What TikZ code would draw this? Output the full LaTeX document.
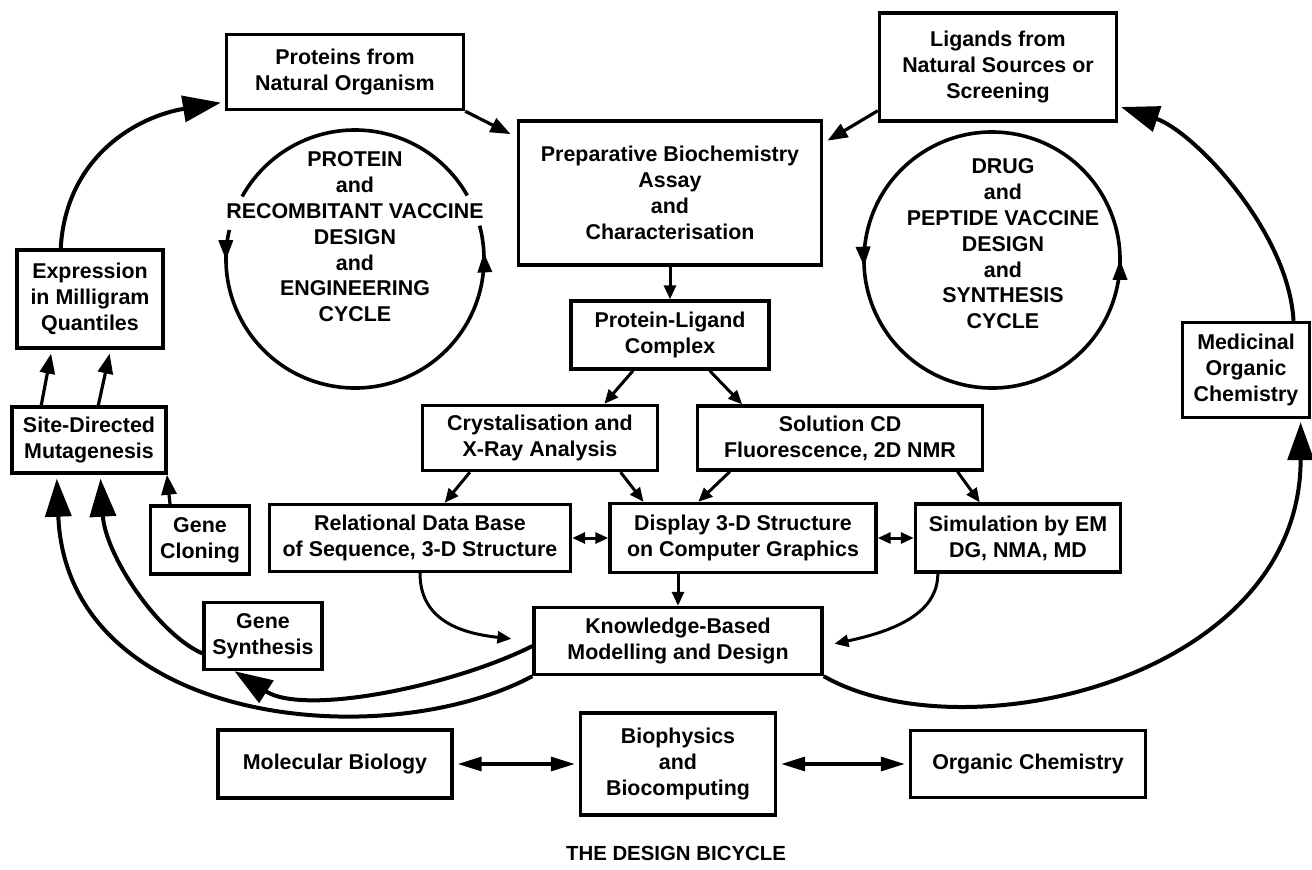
\documentclass[tikz,border=0pt]{standalone}
\usepackage{fontspec}
\setmainfont{Liberation Sans}
\usepackage{tikz}
\usetikzlibrary{arrows.meta,positioning,decorations.markings}
\tikzstyle{stage} = [rectangle, draw, line width=1.7pt, text centered, align=center, inner sep=0pt, font=\bfseries\fontsize{10.7}{12.9}\selectfont]
\tikzstyle{cyclelabel} = [align=center, font=\bfseries\fontsize{10.7}{12.9}\selectfont]
\tikzstyle{bigarrow} = [line width=2pt, -{Triangle[length=19pt,width=13pt]}]
\tikzstyle{midarrow} = [line width=1.6pt, -{Triangle[length=10pt,width=7.5pt]}]
\tikzstyle{smallarrow} = [line width=1.5pt, -{Triangle[length=7pt,width=6pt]}]
\tikzstyle{duplex} = [line width=1.5pt, {Triangle[length=6.5pt,width=5.5pt]}-{Triangle[length=6.5pt,width=5.5pt]}]
\tikzstyle{longduplex} = [line width=1.6pt, {Triangle[length=12pt,width=7pt]}-{Triangle[length=12pt,width=7pt]}]
\tikzstyle{cyclearc} = [line width=1.8pt]
\tikzstyle{leftmarks} = [postaction={decorate}, decoration={markings, mark=at position 0.065 with {\arrow{Triangle[length=10pt,width=7pt]}}, mark=at position 0.942 with {\arrow{Triangle[length=10pt,width=7pt]}}}]
\tikzstyle{rightmarks} = [postaction={decorate}, decoration={markings, mark=at position 0.028 with {\arrow{Triangle[length=10pt,width=7pt]}}, mark=at position 0.536 with {\arrow{Triangle[length=10pt,width=7pt]}}}]

\begin{document}
\begin{tikzpicture}[x=0.5pt, y=-0.5pt]
\useasboundingbox (0,0) rectangle (1312,869);
% Sources and central assay
\node (proteins) [stage, minimum width=118.5pt, minimum height=37.5pt] at (345,72) {Proteins from\\Natural Organism};
\node (prep) [stage, minimum width=151.5pt, minimum height=72pt] at (670,193) {Preparative Biochemistry\\Assay\\and\\Characterisation};
\node (ligands) [stage, minimum width=118.5pt, minimum height=54pt] at (998,67) {Ligands from\\Natural Sources or\\Screening};
\node (plc) [stage, below of=prep, node distance=71pt, minimum width=99pt, minimum height=34pt] {Protein-Ligand\\Complex};

% Structure analysis
\node (crys) [stage, minimum width=117.5pt, minimum height=32.5pt] at (540,438) {Crystalisation and\\X-Ray Analysis};
\node (sol) [stage, right of=crys, node distance=150pt, minimum width=142.5pt, minimum height=32pt] {Solution CD\\Fluorescence, 2D NMR};
\node (disp) [stage, minimum width=133pt, minimum height=34.5pt] at (743,538) {Display 3-D Structure\\on Computer Graphics};
\node (reldb) [stage, left of=disp, node distance=161.5pt, minimum width=150.5pt, minimum height=33.5pt] {Relational Data Base\\of Sequence, 3-D Structure};
\node (sim) [stage, right of=disp, node distance=137.5pt, minimum width=102.5pt, minimum height=34pt] {Simulation by EM\\DG, NMA, MD};
\node (know) [stage, minimum width=144pt, minimum height=33.5pt] at (678,641) {Knowledge-Based\\Modelling and Design};

% Left and right sides
\node (expr) [stage, minimum width=73pt, minimum height=49pt] at (90,299) {Expression\\in Milligram\\Quantiles};
\node (sdm) [stage, minimum width=77pt, minimum height=33pt] at (89,440) {Site-Directed\\Mutagenesis};
\node (gc) [stage, minimum width=49.5pt, minimum height=34pt] at (200,540) {Gene\\Cloning};
\node (gs) [stage, minimum width=59pt, minimum height=33.5pt] at (263,636) {Gene\\Synthesis};
\node (med) [stage, minimum width=63.5pt, minimum height=47.5pt] at (1246,370) {Medicinal\\Organic\\Chemistry};

% Disciplines
\node (bio) [stage, below of=know, node distance=61.5pt, minimum width=97.5pt, minimum height=51pt] {Biophysics\\and\\Biocomputing};
\node (molbio) [stage, left of=bio, node distance=171.5pt, minimum width=117pt, minimum height=34pt] {Molecular Biology};
\node (orgchem) [stage, right of=bio, node distance=175pt, minimum width=117.5pt, minimum height=33.5pt] {Organic Chemistry};
\node (title) [font=\bfseries\fontsize{10.2}{12}\selectfont] at (676,853) {THE DESIGN BICYCLE};

% Cycles
\coordinate (lhub) at (355,259);
\coordinate (rhub) at (992,260);
\node (lcycle) [cyclelabel] at (355,237) {PROTEIN\\and\\RECOMBITANT VACCINE\\DESIGN\\and\\ENGINEERING\\CYCLE};
\node (rcycle) [cyclelabel] at (1003,244) {DRUG\\and\\PEPTIDE VACCINE\\DESIGN\\and\\SYNTHESIS\\CYCLE};
\draw[cyclearc] ([shift={(29.5:64.5pt)}]lhub) arc[start angle=29.5, end angle=151, radius=64.5pt];
\draw[cyclearc, leftmarks] ([shift={(167:64.5pt)}]lhub) arc[start angle=167, end angle=375, radius=64.5pt];
\draw[cyclearc, rightmarks] ([shift={(-10:64pt)}]rhub) arc[start angle=-10, end angle=350, radius=64pt];

% Central flow
\draw[midarrow, shorten >=3.5pt] (proteins.south east) -- (prep.160);
\draw[midarrow, shorten >=2.5pt] (ligands.200) -- (prep.18);
\draw[smallarrow] (prep) -- (plc);
\draw[smallarrow] (plc.224) -- (crys.28);
\draw[smallarrow] (plc.318) -- (sol.161);
\draw[smallarrow] (crys.206) -- (reldb.55);
\draw[smallarrow] (crys.337) -- (disp.160);
\draw[smallarrow] (sol.197) -- (disp.141);
\draw[smallarrow] (sol.344) -- (sim.137);
\draw[duplex] (reldb) -- (disp);
\draw[duplex] (disp) -- (sim);
\draw[smallarrow] (disp.south -| know.north) -- (know.north);
\draw[smallarrow, shorten >=10.5pt] (reldb.south) .. controls +(0,45) and +(-75,-8) .. (know.west);
\draw[smallarrow, shorten >=5.5pt] (sim.204) .. controls +(0,40) and +(70,-15) .. (know.358);

% Molecular biology loop
\draw[midarrow] (gc.130) -- (sdm.336);
\draw[midarrow, shorten >=2pt] (sdm.144) -- (expr.233);
\draw[midarrow, shorten >=2pt] (sdm.75) -- (expr.292);
\draw[bigarrow, shorten >=2pt] (expr.120) .. controls +(5,-90) and +(-90,15) .. (proteins.194);
\draw[bigarrow] (know.182) .. controls +(-80,40) and +(70,45) .. (gs.231);
\draw[bigarrow, shorten >=2pt] (gs.196) .. controls +(-45,-20) and +(5,80) .. (sdm.288);
\draw[bigarrow, shorten >=2pt] (know.south west) .. controls +(-150,80) and +(10,250) .. (sdm.227);

% Organic chemistry loop
\draw[bigarrow, shorten >=1.5pt] (know.south east) .. controls +(140,80) and +(0,260) .. (med.318);
\draw[bigarrow, shorten >=1.5pt] (med.46) .. controls +(-5,-90) and +(75,25) .. (ligands.342);

% Disciplines
\draw[longduplex, shorten <=2pt, shorten >=2pt] (molbio) -- (bio);
\draw[longduplex, shorten <=2pt, shorten >=2pt] (bio) -- (orgchem);
\end{tikzpicture}
\end{document}
